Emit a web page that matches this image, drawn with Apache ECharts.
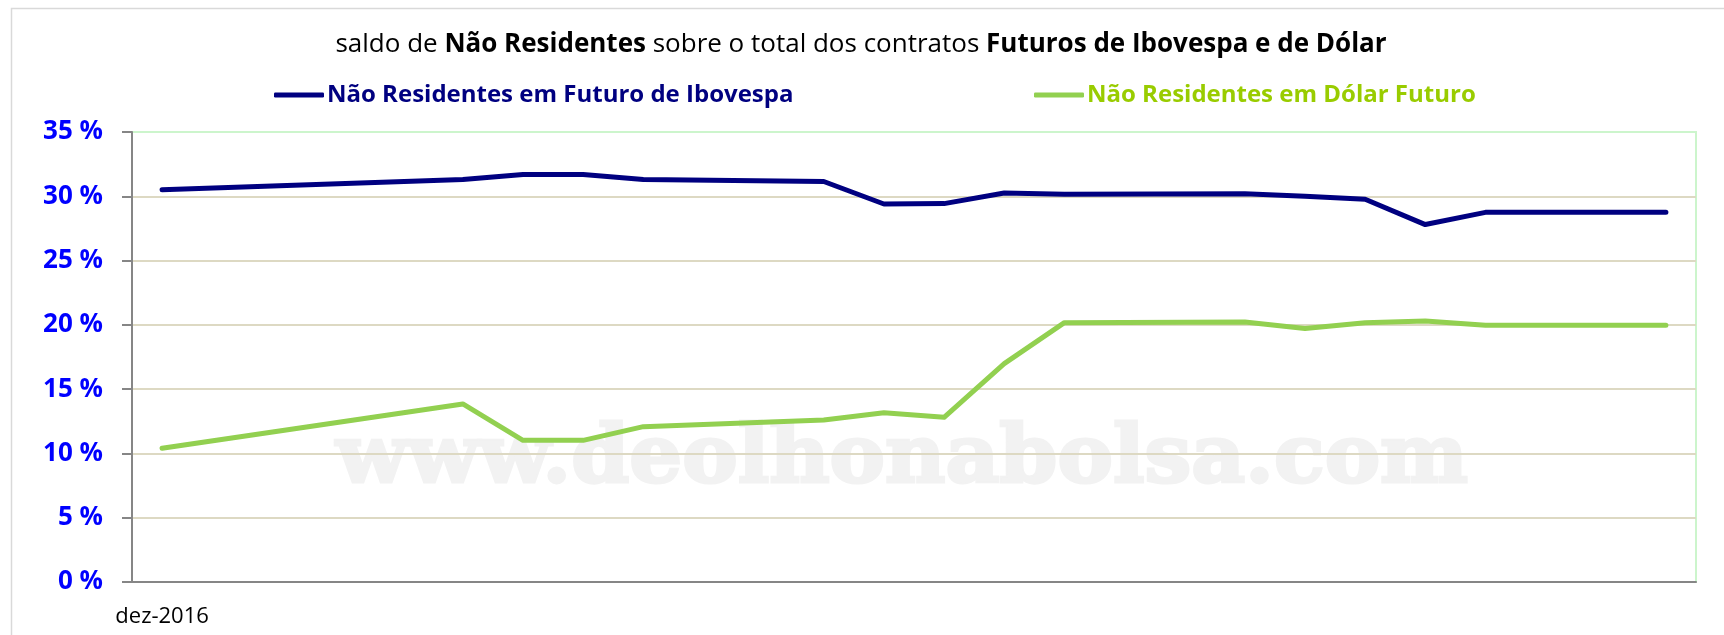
<!DOCTYPE html>
<html>
<head>
<meta charset="utf-8">
<script src="https://cdn.jsdelivr.net/npm/echarts@6/dist/echarts.min.js"></script>
<style>
  html, body { margin: 0; padding: 0; background: #fff; }
  #chart { width: 1724px; height: 635px; }
</style>
</head>
<body>
<div id="chart"></div>
<script>
// one category per calendar day, blanks on days without trading
const dates = [
  '2016-12-29', '2016-12-30', '2016-12-31', '2017-01-01', '2017-01-02',
  '2017-01-03', '2017-01-04', '2017-01-05', '2017-01-06', '2017-01-07',
  '2017-01-08', '2017-01-09', '2017-01-10', '2017-01-11', '2017-01-12',
  '2017-01-13', '2017-01-14', '2017-01-15', '2017-01-16', '2017-01-17',
  '2017-01-18', '2017-01-19', '2017-01-20', '2017-01-21', '2017-01-22',
  '2017-01-23'
]
const tickLabels = ['dez-2016']

const ibovespa = [
  30.5, null, null, null, null,
  31.3, 31.7, 31.7, 31.3, null,
  null, 31.15, 29.4, 29.43, 30.25,
  30.15, null, null, 30.2, 30.0,
  29.77, 27.8, 28.75, null, null,
  28.75
]
const dolar = [
  10.4, null, null, null, null,
  13.85, 11.02, 11.02, 12.08, null,
  null, 12.6, 13.17, 12.81, 16.98,
  20.17, null, null, 20.22, 19.71,
  20.17, 20.3, 19.97, null, null,
  19.97
]
const yTicks = [0, 5, 10, 15, 20, 25, 30, 35]

const nameIbov = 'Não Residentes em Futuro de Ibovespa'
const nameDolar = 'Não Residentes em Dólar Futuro'
const font = '"Open Sans", "Liberation Sans", sans-serif'

// watermark width in the picture is about 1132px
const wmText = 'www.deolhonabolsa.com'
const wmFont = 'bold 80px "DejaVu Serif"'
const ctx = document.createElement('canvas').getContext('2d')
ctx.font = wmFont
const wmScale = 1132 / ctx.measureText(wmText).width

const chart = echarts.init(document.getElementById('chart'))
chart.setOption({
  animation: false,
  backgroundColor: '#fff',
  title: {
    text: 'saldo de {b|Não Residentes} sobre o total dos contratos {b|Futuros de Ibovespa e de Dólar}',
    left: 856,
    top: 27,
    textAlign: 'center',
    textStyle: {
      fontFamily: font,
      fontSize: 26,
      fontWeight: 'normal',
      color: '#000',
      rich: {
        b: { fontFamily: font, fontSize: 26, fontWeight: 'bold', color: '#000' }
      }
    }
  },
  legend: [
    {
      data: [nameIbov],
      left: 269,
      top: 78,
      icon: 'roundRect',
      itemWidth: 50,
      itemHeight: 5,
      textStyle: { fontFamily: font, fontSize: 24, fontWeight: 'bold', color: '#000080', padding: [0, 0, 0, -2] }
    },
    {
      data: [nameDolar],
      left: 1029,
      top: 78,
      icon: 'roundRect',
      itemWidth: 50,
      itemHeight: 5,
      textStyle: { fontFamily: font, fontSize: 24, fontWeight: 'bold', color: '#99cc00', padding: [0, 0, 0, -2] }
    }
  ],
  grid: {
    left: 132,
    right: 28,
    top: 132,
    bottom: 53,
    show: true,
    borderColor: '#ccf5cc',
    borderWidth: 2,
    backgroundColor: 'transparent'
  },
  graphic: [
    {
      type: 'rect',
      z: -2,
      shape: { x: 11.5, y: 8.5, width: 1800, height: 700 },
      style: { fill: '#fff', stroke: '#d9d9d9', lineWidth: 1.5 }
    },
    {
      type: 'text',
      z: -1,
      x: 336,
      y: 421,
      scaleX: wmScale,
      style: { text: wmText, font: wmFont, fill: '#f2f2f2', stroke: '#f2f2f2', lineWidth: 3 }
    }
  ],
  xAxis: {
    type: 'category',
    data: dates,
    boundaryGap: true,
    axisLine: { lineStyle: { color: '#868686', width: 2 } },
    axisTick: {
      interval: (i) => i === 0,
      length: 8,
      lineStyle: { color: '#868686', width: 2 }
    },
    axisLabel: {
      interval: 0,
      formatter: (v, i) => tickLabels[i] || '',
      fontFamily: font,
      fontSize: 22,
      color: '#000',
      margin: 24
    },
    splitLine: { show: false }
  },
  yAxis: {
    type: 'value',
    min: yTicks[0],
    max: yTicks[yTicks.length - 1],
    interval: 5,
    axisLine: { show: true, lineStyle: { color: '#868686', width: 2 } },
    axisTick: { show: true, length: 10, lineStyle: { color: '#868686', width: 2 } },
    axisLabel: {
      formatter: '{value} %',
      fontFamily: font,
      fontSize: 26,
      fontWeight: 'bold',
      color: '#0000ff',
      margin: 29
    },
    splitLine: {
      show: true,
      showMinLine: false,
      showMaxLine: false,
      lineStyle: { color: '#ddd9c3', width: 2 }
    }
  },
  series: [
    {
      name: nameIbov,
      type: 'line',
      data: ibovespa,
      connectNulls: true,
      showSymbol: false,
      symbol: 'none',
      color: '#000080',
      lineStyle: { width: 5, cap: 'round', join: 'round' }
    },
    {
      name: nameDolar,
      type: 'line',
      data: dolar,
      connectNulls: true,
      showSymbol: false,
      symbol: 'none',
      color: '#92d050',
      lineStyle: { width: 5, cap: 'round', join: 'round' }
    }
  ]
})
</script>
</body>
</html>
